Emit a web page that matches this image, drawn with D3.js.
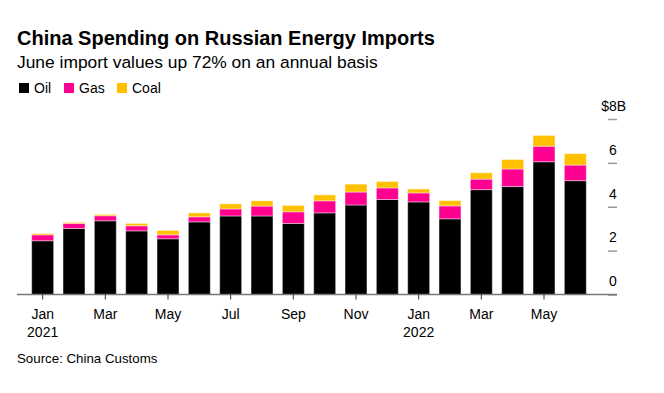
<!DOCTYPE html>
<html>
<head>
<meta charset="utf-8">
<script src="https://cdn.jsdelivr.net/npm/d3@7"></script>
<style>
  body { margin: 0; background: #fff; }
  svg { font-family: "Liberation Sans", Arial, sans-serif; }
</style>
</head>
<body>
<div id="container"></div>
<script>
/* DATA (billion USD) */
const months = ["2021-01","2021-02","2021-03","2021-04","2021-05","2021-06",
  "2021-07","2021-08","2021-09","2021-10","2021-11","2021-12",
  "2022-01","2022-02","2022-03","2022-04","2022-05","2022-06"];
const oil  = [2.45,3.01,3.36,2.90,2.54,3.31,3.58,3.58,3.24,3.72,4.08,4.33,4.22,3.45,4.78,4.92,6.05,5.19];
const gas  = [0.27,0.23,0.23,0.23,0.18,0.23,0.32,0.45,0.53,0.55,0.59,0.53,0.41,0.59,0.48,0.80,0.71,0.71];
const coal = [0.06,0.05,0.06,0.11,0.20,0.18,0.23,0.24,0.29,0.27,0.36,0.29,0.18,0.24,0.29,0.43,0.49,0.52];
const series = ["Oil", "Gas", "Coal"];
const colors = ["#000000", "#ff0090", "#ffc000"];
const yTicks = [0, 2, 4, 6, 8];
const monthNames = ["Jan","Feb","Mar","Apr","May","Jun","Jul","Aug","Sep","Oct","Nov","Dec"];

const width = 664, height = 393;

const table = months.map((m, i) => ({month: m, Oil: oil[i], Gas: gas[i], Coal: coal[i]}));

const svg = d3.select("#container")
  .append("svg")
  .attr("width", width)
  .attr("height", height);

// Title and subtitle
svg.append("text")
  .attr("x", 17).attr("y", 45)
  .style("font-size", "20px").style("font-weight", "bold")
  .style("fill", "#000")
  .text("China Spending on Russian Energy Imports");

svg.append("text")
  .attr("x", 17).attr("y", 68)
  .style("font-size", "17.4px")
  .style("fill", "#000")
  .text("June import values up 72% on an annual basis");

// Legend
const legendX = [19, 64, 117];
const legend = svg.append("g");
series.forEach((s, i) => {
  legend.append("rect")
    .attr("x", legendX[i]).attr("y", 83)
    .attr("width", 10).attr("height", 10)
    .attr("fill", colors[i]);
  legend.append("text")
    .attr("x", legendX[i] + 15).attr("y", 93)
    .style("font-size", "14px")
    .style("fill", "#000")
    .text(s);
});

/* SCALES */
const xScale = d3.scaleBand()
  .domain(months)
  .range([27, 591])
  .paddingInner(0.3)
  .paddingOuter(0.15);

const yScale = d3.scaleLinear()
  .domain([0, 8])
  .range([294.5, 119]);

const color = d3.scaleOrdinal().domain(series).range(colors);

// Y gridline ticks on the right
const yAxis = d3.axisRight(yScale).tickValues(yTicks).tickSize(9).tickFormat(d => d);
const yG = svg.append("g")
  .attr("transform", "translate(608,0)")
  .call(yAxis);
yG.select(".domain").remove();
yG.selectAll(".tick line").attr("stroke", "#999").attr("stroke-width", 1.5);
yG.selectAll(".tick text")
  .attr("x", 1).attr("dy", "-0.62em")
  .attr("text-anchor", "start")
  .style("font-family", "Liberation Sans, Arial, sans-serif")
  .style("font-size", "14px")
  .style("fill", "#000");
// "$" hangs left of the top label, "B" follows
yG.selectAll(".tick text")
  .filter(d => d === 8)
  .text("8B");
yG.selectAll(".tick").filter(d => d === 8)
  .append("text")
  .attr("x", 1).attr("y", 0.5).attr("dy", "-0.62em")
  .attr("text-anchor", "end")
  .style("font-size", "14px")
  .style("fill", "#000")
  .text("$");

/* BARS */
const stacked = d3.stack().keys(series)(table);

svg.append("g")
  .selectAll("g")
  .data(stacked)
  .join("g")
  .attr("fill", d => color(d.key))
  .selectAll("rect")
  .data(d => d)
  .join("rect")
  .attr("x", d => xScale(d.data.month))
  .attr("width", xScale.bandwidth())
  .attr("y", d => yScale(d[1]))
  .attr("height", d => yScale(d[0]) - yScale(d[1]))
  .attr("stroke", "#fff")
  .attr("stroke-opacity", 0.4)
  .attr("stroke-width", 1);

// Baseline
svg.append("line")
  .attr("x1", 17).attr("x2", 617)
  .attr("y1", yScale(0)).attr("y2", yScale(0))
  .attr("stroke", "#777").attr("stroke-width", 1.5);

// X axis
const xAxis = d3.axisBottom(xScale)
  .tickValues(months.filter((m, i) => i % 2 === 0))
  .tickSize(5)
  .tickFormat(m => monthNames[+m.slice(5) - 1]);

const xG = svg.append("g")
  .attr("transform", `translate(0, ${yScale(0)})`)
  .call(xAxis);
xG.select(".domain").remove();
xG.selectAll(".tick line").attr("stroke", "#333");
xG.selectAll(".tick text")
  .attr("y", 0).attr("dy", null)
  .attr("transform", "translate(0,24.5)")
  .style("font-family", "Liberation Sans, Arial, sans-serif")
  .style("font-size", "14px")
  .style("fill", "#000");
xG.selectAll(".tick")
  .filter(m => m.endsWith("-01"))
  .append("text")
  .attr("y", 42.5)
  .attr("text-anchor", "middle")
  .style("font-size", "14px")
  .style("fill", "#000")
  .text(m => m.slice(0, 4));

// Source
svg.append("text")
  .attr("x", 17).attr("y", 363)
  .style("font-size", "13.3px")
  .style("fill", "#000")
  .text("Source: China Customs");
</script>
</body>
</html>
